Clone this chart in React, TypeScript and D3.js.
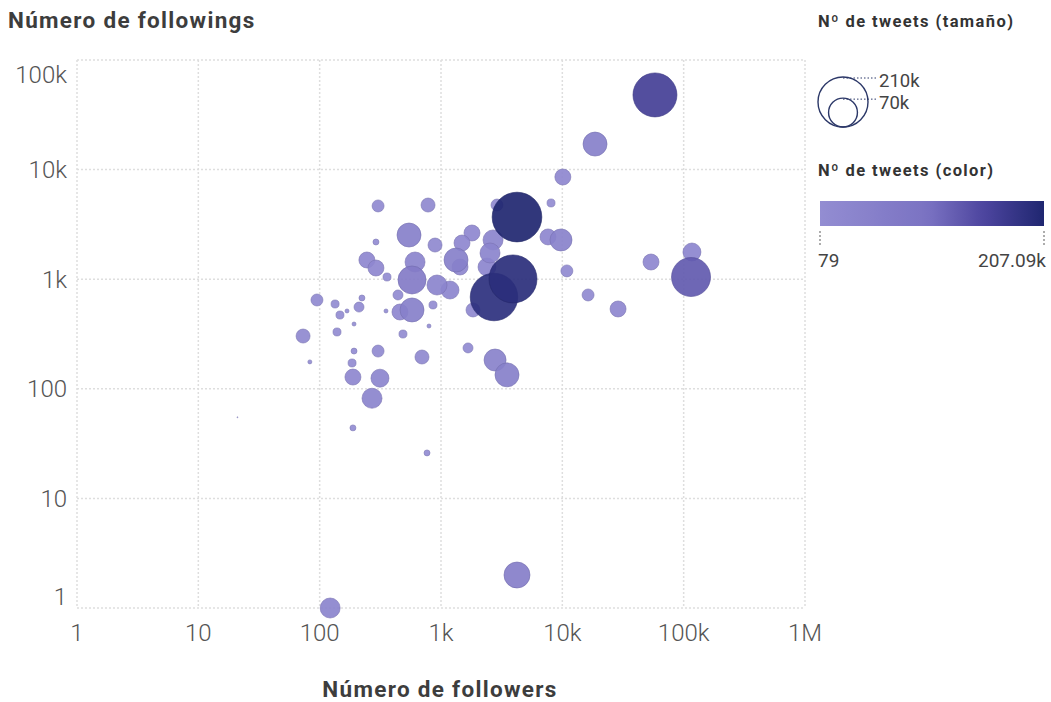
import React from "react";
import * as d3 from "d3";

// Cuentas: seguidores, seguidos y nº de tweets
const followers = [
  58000, 18600, 10100, 8070, 4230, 3920, 2735, 7620, 9750, 10900, 16300, 28800, 53800, 117000, 115000,
  1670, 2790, 3500, 4230, 122, 767, 697, 188, 314, 270, 188, 83, 21, 303, 192, 185, 486, 139, 73, 95,
  134, 147, 168, 211, 223, 192, 352, 577, 459, 859, 796, 442, 303, 782, 545, 893, 291, 245, 291, 359,
  611, 577, 927, 1186, 1330, 1800, 1490, 2685, 2535, 2395, 1836, 1435, 2895,
];
const followings = [
  48000, 17100, 8560, 4960, 3690, 1005, 688, 2430, 2280, 1190, 718, 535, 1435, 1770, 1047,
  236, 183, 134, 2, 1, 26, 195, 128, 125, 82, 44, 176, 55, 221, 221, 172, 316, 330, 303, 646,
  594, 471, 513, 557, 674, 390, 513, 524, 502, 582, 374, 718, 4660, 4750, 2530, 2050, 2185, 1497, 1265, 1047,
  1435, 984, 885, 797, 1497, 2640, 2140, 2280, 1735, 1292, 524, 1292, 4750,
];
const tweets = [
  162400, 48400, 21500, 5400, 207090, 193500, 190000, 21500, 40700, 12100, 12100, 21500, 21500, 27200, 127800,
  8400, 40700, 48400, 56800, 33600, 3000, 16500, 21500, 27200, 33600, 3000, 1350, 79, 12100, 3000, 5400, 5400, 5400, 16500, 12100,
  5400, 5400, 1350, 8400, 3000, 1350, 1350, 48400, 21500, 5400, 1350, 8400, 12100, 16500, 48400, 16500, 3000, 21500, 21500, 5400,
  33600, 65900, 33600, 27200, 48400, 21500, 21500, 33600, 33600, 27200, 16500, 21500, 12100,
];

const axisTicks = [1, 10, 100, 1000, 10000, 100000, 1000000];
const axisTickLabels = ["1", "10", "100", "1k", "10k", "100k", "1M"];
const yTicks = [1, 10, 100, 1000, 10000, 100000];
const yTickLabels = ["1", "10", "100", "1k", "10k", "100k"];

const sizeLegendValues = [210000, 70000];
const sizeLegendLabels = ["210k", "70k"];
const colorLegendValues = [79, 207090];
const colorLegendLabels = ["79", "207.09k"];

const FONT = "Roboto, 'Noto Sans', sans-serif";

export default function App() {
  const W = 1051;
  const H = 702;
  const x = d3.scaleLog().domain([1, 1e6]).range([77, 805]);
  const y = d3.scaleLog().domain([1, 1e5]).range([608, 60]);
  const r = d3.scaleSqrt().domain([0, 210000]).range([0, 25]);
  const color = d3
    .scaleLinear<string>()
    .domain([79, 100000, 150000, 207090])
    .range(["#938dd2", "#7a72c2", "#4e46a0", "#1f2670"])
    .interpolate(d3.interpolateRgb);

  const points = d3
    .range(followers.length)
    .map((i) => ({ fx: followers[i], fy: followings[i], t: tweets[i] }))
    .sort((a, b) => a.t - b.t);

  const [xMin, xMax] = x.range();
  const [yBot, yTop] = y.range();

  // legend geometry
  const sizeCx = 843;
  const sizeBase = 127;
  const barX0 = 820;
  const barX1 = 1044;
  const bar = d3.scaleLinear().domain(colorLegendValues).range([barX0, barX1]);
  const gradStops = d3.range(0, 1.0001, 0.05).map((f) => {
    const v = colorLegendValues[0] + f * (colorLegendValues[1] - colorLegendValues[0]);
    return { off: f, c: color(v) };
  });

  return (
    <svg width={W} height={H} style={{ position: "absolute", left: 0, top: 0, background: "#fff" }} fontFamily={FONT}>
      <defs>
        <linearGradient id="tweetGrad" x1="0" x2="1" y1="0" y2="0">
          {gradStops.map((s, i) => (
            <stop key={i} offset={s.off} stopColor={s.c} />
          ))}
        </linearGradient>
      </defs>

      {/* grid */}
      <g stroke="#dedede" strokeWidth={1.5} strokeDasharray="2,2" fill="none">
        {axisTicks.map((v) => (
          <line key={"gx" + v} x1={x(v)} x2={x(v)} y1={yTop} y2={yBot} />
        ))}
        {yTicks.map((v) => (
          <line key={"gy" + v} x1={xMin} x2={xMax} y1={y(v)} y2={y(v)} />
        ))}
      </g>

      {/* y axis labels */}
      <g fill="#555" fontSize={24} fontWeight={300} textAnchor="end">
        {yTicks.map((v, i) => (
          <text key={v} x={67} y={Math.min(Math.max(y(v), yTop + 15), yBot - 11)} dy="0.35em">
            {yTickLabels[i]}
          </text>
        ))}
      </g>

      {/* x axis labels */}
      <g fill="#555" fontSize={24} fontWeight={300} textAnchor="middle">
        {axisTicks.map((v, i) => (
          <text key={v} x={x(v)} y={633} dy="0.35em">
            {axisTickLabels[i]}
          </text>
        ))}
      </g>

      {/* bubbles */}
      <g>
        {points.map((p, i) => {
          const c = color(p.t);
          return (
            <circle
              key={i}
              cx={x(p.fx)}
              cy={y(p.fy)}
              r={r(p.t)}
              fill={c}
              fillOpacity={0.92}
              stroke={d3.color(c)!.darker(0.4).formatHex()}
              strokeOpacity={0.6}
              strokeWidth={1}
            />
          );
        })}
      </g>

      {/* titles */}
      <text x={8} y={28} fontSize={22.5} fontWeight={700} fill="#3d3d3d" letterSpacing={1.3}>
        Número de followings
      </text>
      <text x={440} y={697} fontSize={22.5} fontWeight={700} fill="#3d3d3d" textAnchor="middle" letterSpacing={1.3}>
        Número de followers
      </text>

      {/* size legend */}
      <text x={818} y={27} fontSize={16.5} fontWeight={700} fill="#333" letterSpacing={1.4}>
        Nº de tweets (tamaño)
      </text>
      <g>
        {sizeLegendValues.map((v, i) => {
          const rr = r(v);
          const cy = sizeBase - rr;
          const topY = cy - rr;
          return (
            <g key={v}>
              <circle cx={sizeCx} cy={cy} r={rr} fill="none" stroke="#2c3868" strokeWidth={1.4} />
              <line x1={sizeCx} x2={876} y1={topY + 1} y2={topY + 1} stroke="#2c3868" strokeWidth={1} strokeDasharray="1.5,2" />
              <text x={879} y={topY + 4} dy="0.35em" fontSize={18.5} fill="#444">
                {sizeLegendLabels[i]}
              </text>
            </g>
          );
        })}
      </g>

      {/* color legend */}
      <text x={818} y={176} fontSize={16.5} fontWeight={700} fill="#333" letterSpacing={1.4}>
        Nº de tweets (color)
      </text>
      <rect x={barX0} y={201} width={barX1 - barX0} height={25} fill="url(#tweetGrad)" />
      {colorLegendValues.map((v, i) => (
        <g key={v}>
          <line x1={bar(v)} x2={bar(v)} y1={231} y2={246} stroke="#777" strokeWidth={1.2} strokeDasharray="2,2" />
          <text x={bar(v) + (i === 0 ? -2 : 2)} y={260} dy="0.35em" fontSize={19} fill="#444" textAnchor={i === 0 ? "start" : "end"}>
            {colorLegendLabels[i]}
          </text>
        </g>
      ))}
    </svg>
  );
}
